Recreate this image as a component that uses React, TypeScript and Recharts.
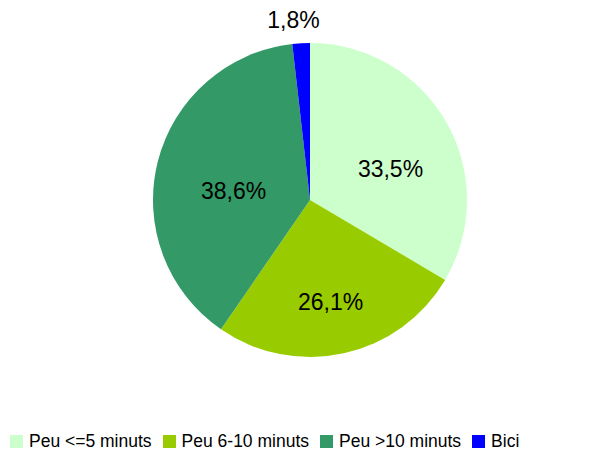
import React from 'react';
import { PieChart, Pie, Cell, Legend } from 'recharts';

const categories = ['Peu <=5 minuts', 'Peu 6-10 minuts', 'Peu >10 minuts', 'Bici'];
const shares = [33.5, 26.1, 38.6, 1.8];
const colors = ['#CCFFCC', '#99CC00', '#339966', '#0000FF'];

// label placement per slice: distance as fraction of radius, angle nudge in degrees
const labelRadius = [0.55, 0.66, 0.49, 1.15];
const labelNudge = [-8.5, -1, 7, 2];

const data = categories.map((name, i) => ({ name, value: shares[i] }));

const RAD = Math.PI / 180;
const FONT = "'Liberation Sans', Arial, sans-serif";

const renderLabel = (props: any) => {
  const { cx, cy, midAngle, outerRadius, index, value } = props;
  const r = outerRadius * labelRadius[index];
  const a = (midAngle + labelNudge[index]) * RAD;
  const x = cx + r * Math.cos(a);
  const y = cy - r * Math.sin(a);
  return (
    <text
      x={x}
      y={y}
      textAnchor="middle"
      dominantBaseline="central"
      fill="#000"
      fontSize={23}
      fontFamily={FONT}
    >
      {value.toFixed(1).replace('.', ',')}%
    </text>
  );
};

const renderLegend = () => (
  <div style={{ display: 'flex', alignItems: 'center', fontFamily: FONT, fontSize: 17.5, color: '#000' }}>
    {categories.map((name, i) => (
      <div key={name} style={{ display: 'flex', alignItems: 'center', marginRight: 11 }}>
        <span style={{ display: 'inline-block', width: 13, height: 13, background: colors[i], marginRight: 6 }} />
        <span>{name}</span>
      </div>
    ))}
  </div>
);

export default function App() {
  return (
    <div style={{ position: 'absolute', left: 0, top: 0, width: 605, height: 452, background: '#fff' }}>
      <PieChart width={605} height={452}>
        <Pie
          data={data}
          dataKey="value"
          cx={305}
          cy={195}
          outerRadius={157}
          startAngle={90}
          endAngle={-270}
          stroke="none"
          label={renderLabel}
          labelLine={false}
          isAnimationActive={false}
        >
          {data.map((d, i) => (
            <Cell key={d.name} fill={colors[i]} />
          ))}
        </Pie>
        <Legend content={renderLegend} wrapperStyle={{ top: 431, left: 10, width: 595 }} />
      </PieChart>
    </div>
  );
}
